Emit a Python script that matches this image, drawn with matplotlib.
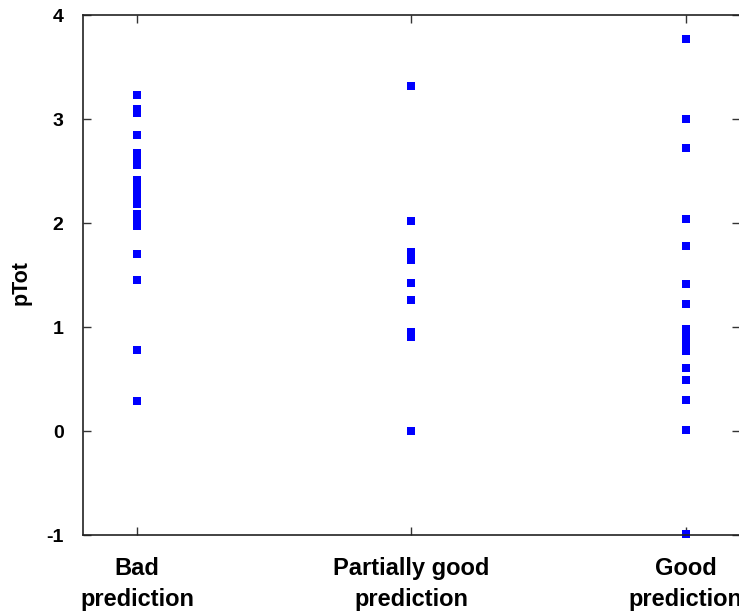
import matplotlib
matplotlib.use("Agg")
import matplotlib.pyplot as plt

plt.rcParams['font.family'] = ['Liberation Sans', 'DejaVu Sans']

categories = ["Bad\nprediction", "Partially good\nprediction", "Good\nprediction"]
bad = [3.23, 3.10, 3.06, 2.85, 2.67, 2.62, 2.56, 2.41, 2.35, 2.30, 2.24, 2.18,
       2.09, 2.03, 1.97, 1.70, 1.45, 0.78, 0.29]
partial = [3.32, 2.02, 1.72, 1.64, 1.42, 1.26, 0.95, 0.90, 0.0]
good = [3.77, 3.0, 2.72, 2.04, 1.78, 1.41, 1.22, 0.98, 0.92, 0.87, 0.82, 0.77,
        0.61, 0.49, 0.30, 0.01, -0.99]
series = [bad, partial, good]
yticks = [-1, 0, 1, 2, 3, 4]

fig = plt.figure(figsize=(7.39, 6.15), dpi=100)
ax = fig.add_axes([0.1123, 0.130, 0.889, 0.8456])

for i, vals in enumerate(series):
    ax.plot([i + 1] * len(vals), vals, linestyle='none', marker='s',
            markersize=5.4, color='#0000ff', markeredgewidth=0, clip_on=False)

ax.set_xlim(1 - 54 / 274, 3 + 54 / 274)
ax.set_ylim(-1, 4)
ax.set_yticks(yticks)
ax.set_yticklabels([str(t) for t in yticks], fontsize=14, fontweight='bold')
ax.set_xticks([1, 2, 3])
ax.set_xticklabels(categories, fontsize=17, fontweight='bold', linespacing=1.42)
ax.tick_params(axis='both', direction='in', length=6, width=1, color='#333333',
               top=True, right=True)
ax.tick_params(axis='y', pad=14)
ax.tick_params(axis='x', pad=16)
ax.set_ylabel("pTot", fontsize=15.5, fontweight='bold')
ax.yaxis.set_label_coords(-0.078, 0.485)
for s in ax.spines.values():
    s.set_linewidth(1.2)
    s.set_color('#222222')

fig.savefig("out.png", dpi=100)
